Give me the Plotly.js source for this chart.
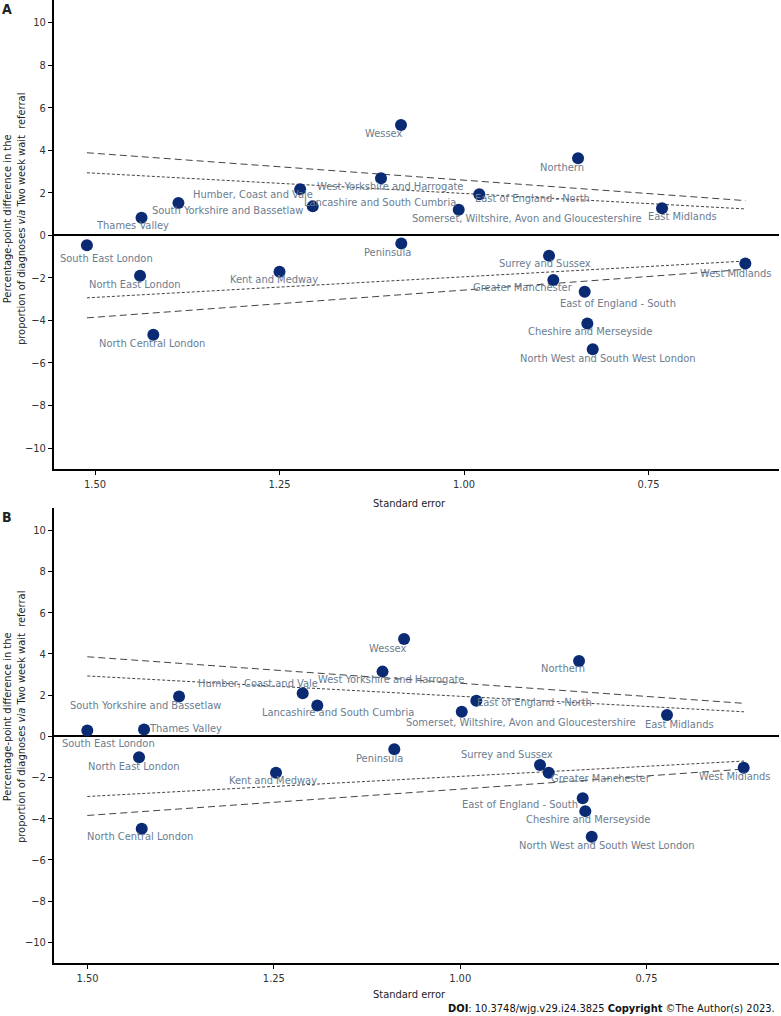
<!DOCTYPE html>
<html>
<head>
<meta charset="utf-8">
<script src="https://cdn.plot.ly/plotly-3.0.1.min.js"></script>
<style>html,body{margin:0;padding:0;background:#fff;}#chart{width:781px;height:1016px;}</style>
</head>
<body>
<div id="chart"></div>
<script>
// ---------- DATA ----------
const regions = ['South East London','North East London','Thames Valley','North Central London','South Yorkshire and Bassetlaw','Humber, Coast and Vale','Kent and Medway','Lancashire and South Cumbria','West Yorkshire and Harrogate','Wessex','Peninsula','Somerset, Wiltshire, Avon and Gloucestershire','East of England - North','Surrey and Sussex','Greater Manchester','Northern','East of England - South','Cheshire and Merseyside','North West and South West London','East Midlands','West Midlands'];

// Panel A
const seA   = [1.511,1.439,1.437,1.421,1.387,1.222,1.250,1.205,1.1125,1.0854,1.085,1.0072,0.9793,0.8848,0.879,0.8455,0.8365,0.8329,0.8256,0.7317,0.6188];
const diffA = [-0.47,-1.90,0.83,-4.67,1.52,2.16,-1.71,1.36,2.68,5.19,-0.38,1.20,1.93,-0.96,-2.10,3.62,-2.65,-4.14,-5.36,1.27,-1.32];
const limSeA    = [1.511, 0.6185];
const upper99A  = [3.88, 1.63];
const upper95A  = [2.94, 1.24];
const lower95A  = [-2.94, -1.21];
const lower99A  = [-3.88, -1.60];

// Panel B
const seB   = [1.5003,1.4309,1.4242,1.4273,1.3772,1.2113,1.2471,1.1917,1.1042,1.0753,1.0884,0.9979,0.9783,0.8929,0.8812,0.8405,0.8356,0.8321,0.8235,0.7225,0.6196];
const diffB = [0.28,-1.02,0.33,-4.49,1.93,2.09,-1.77,1.50,3.14,4.72,-0.63,1.19,1.73,-1.39,-1.77,3.66,-3.00,-3.63,-4.87,1.03,-1.52];
const limSeB    = [1.5003, 0.6191];
const upper99B  = [3.86, 1.60];
const upper95B  = [2.93, 1.19];
const lower95B  = [-2.92, -1.20];
const lower99B  = [-3.84, -1.59];

const xTickVals  = [1.5, 1.25, 1.0, 0.75];
const xTickText  = ['1.50','1.25','1.00','0.75'];
const yTickVals  = [-10,-8,-6,-4,-2,0,2,4,6,8,10];

// ---------- LABEL PLACEMENT (screen px offsets from each point) ----------
const labelOffA = [[20,13],[-5,9],[-9,8],[-1,9],[49,8],[-47,5],[-6,8],[67,-4],[9,8],[-18,9],[-14,9],[68,9],[53,4],[-4,8],[-30,8],[-16,9],[33,12],[3,8],[15,9],[20,8],[-9,10]];
const labelOffB = [[21,13],[-5,9],[41,-1],[-2,8],[-34,9],[-45,-10],[-3,8],[21,7],[8.5,8],[-16.5,9],[-15,9],[59,11],[58,2],[-32.5,-10],[52,6],[-16,8],[-63,6],[3,8],[15,9],[13,9],[-9,9]];

// ---------- STYLE ----------
const W = 781, H = 1016;
const px = v => v / W;
const py = v => 1 - v / H;
const dotColor = '#0a2a74';
const labelColor = '#6b7c90';
const lineColor = '#444444';
const FONT = "'DejaVu Sans Condensed', 'DejaVu Sans', sans-serif";

function funnel(xa, ya, se, up99, up95, lo95, lo99, pts, diffs) {
  const mk = (y, dash) => ({x: se, y: y, xaxis: xa, yaxis: ya, mode: 'lines', type: 'scatter',
    line: {color: lineColor, width: 1, dash: dash}, hoverinfo: 'skip', showlegend: false});
  return [
    mk(up99, '7px,4px'), mk(lo99, '7px,4px'),
    mk(up95, '3px,2px'), mk(lo95, '3px,2px'),
    {x: pts, y: diffs, xaxis: xa, yaxis: ya, mode: 'markers', type: 'scatter', text: regions,
     marker: {color: dotColor, size: 12}, showlegend: false}
  ];
}

const data = [
  ...funnel('x','y', limSeA, upper99A, upper95A, lower95A, lower99A, seA, diffA),
  ...funnel('x2','y2', limSeB, upper99B, upper95B, lower95B, lower99B, seB, diffB)
];

const annotations = [];
function addLabels(xr, yr, se, diffs, offs) {
  regions.forEach((r, i) => {
    annotations.push({x: se[i], y: diffs[i], xref: xr, yref: yr, text: r, showarrow: false,
      xanchor: 'center', yanchor: 'middle',
      xshift: offs[i][0], yshift: -offs[i][1], font: {family: FONT, size: 11, color: labelColor}});
  });
}
addLabels('x','y', seA, diffA, labelOffA);
addLabels('x2','y2', seB, diffB, labelOffB);

const ytitle = 'Percentage-point difference in the<br>proportion of diagnoses <i>via</i> Two week wait&nbsp;&nbsp;referral';
const txtFont = {family: FONT, size: 11, color: '#222'};
const pa = (x, y, text, font, extra) => Object.assign({x: px(x), y: py(y), xref: 'paper', yref: 'paper',
  text: text, showarrow: false, xanchor: 'center', yanchor: 'middle', font: font}, extra || {});
annotations.push(
  pa(14, 219, ytitle, txtFont, {textangle: -90}),
  pa(14, 717, ytitle, txtFont, {textangle: -90}),
  pa(410, 503, 'Standard error', txtFont),
  pa(410, 994, 'Standard error', txtFont),
  pa(7, 9, '<b>A</b>', {family: FONT, size: 14, color: '#222'}),
  pa(7, 517, '<b>B</b>', {family: FONT, size: 14, color: '#222'}),
  pa(777, 1008, '<b>DOI</b>: 10.3748/wjg.v29.i24.3825 <b>Copyright</b> ©The Author(s) 2023.', {family: FONT, size: 11, color: '#111'}, {xanchor: 'right'})
);

const xCommon = {tickvals: xTickVals, ticktext: xTickText, showline: true, linecolor: '#000', linewidth: 2,
  ticks: 'outside', ticklen: 4, tickcolor: '#000', tickwidth: 1, showgrid: false, zeroline: false,
  tickfont: {family: FONT, size: 11, color: '#333'}};
const yCommon = {tickvals: yTickVals, showline: true, linecolor: '#000', linewidth: 2,
  ticks: 'outside', ticklen: 4, tickcolor: '#000', tickwidth: 1, showgrid: false,
  zeroline: true, zerolinecolor: '#000', zerolinewidth: 2,
  tickfont: {family: FONT, size: 11, color: '#333'}};

const layout = {
  width: W, height: H,
  margin: {l: 0, r: 0, t: 0, b: 0},
  paper_bgcolor: '#fff', plot_bgcolor: '#fff',
  showlegend: false,
  xaxis:  Object.assign({}, xCommon, {domain: [px(54), px(779)], range: [1.5556, 0.5732], anchor: 'y'}),
  yaxis:  Object.assign({}, yCommon, {domain: [py(468.7), py(0)], range: [-10.97, 11.06], anchor: 'x'}),
  xaxis2: Object.assign({}, xCommon, {domain: [px(54), px(779)], range: [1.545, 0.5722], anchor: 'y2'}),
  yaxis2: Object.assign({}, yCommon, {domain: [py(963), py(508)], range: [-11.0, 11.08], anchor: 'x2'}),
  annotations: annotations
};

Plotly.newPlot('chart', data, layout, {displayModeBar: false, staticPlot: true});
</script>
</body>
</html>
